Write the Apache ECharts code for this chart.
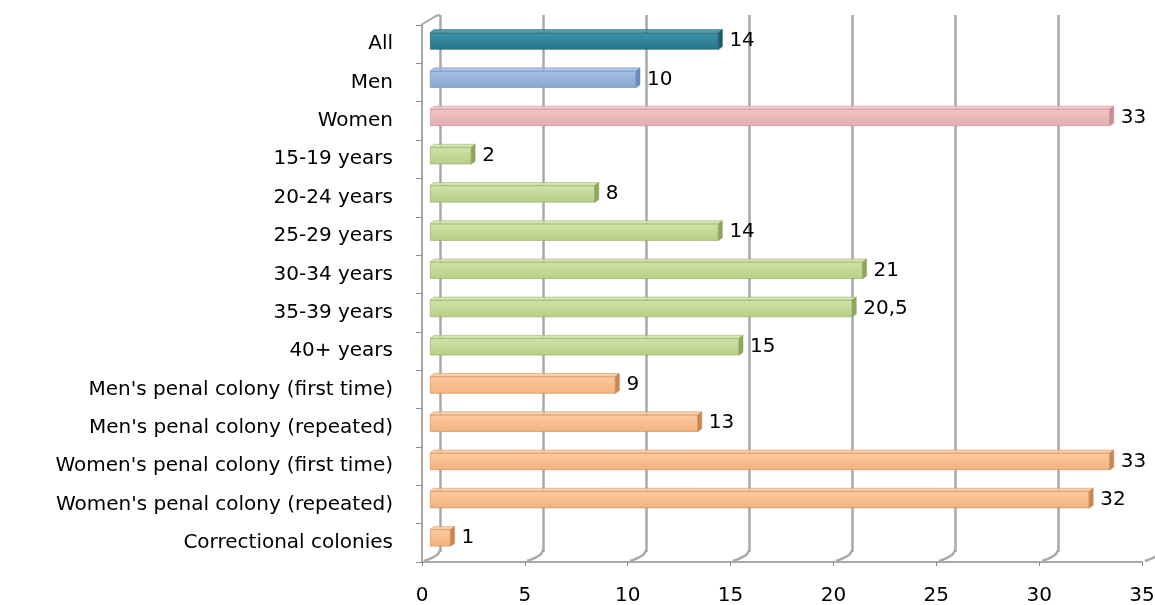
<!DOCTYPE html>
<html>
<head>
<meta charset="utf-8">
<script src="https://cdn.jsdelivr.net/npm/echarts@6/dist/echarts.min.js"></script>
<style>
  html, body { margin: 0; padding: 0; background: #ffffff; }
  #chart { width: 1155px; height: 605px; }
</style>
</head>
<body>
<div id="chart"></div>
<script>
// Share of respondents by group (%)
const categories = [
  'All', 'Men', 'Women',
  '15-19 years', '20-24 years', '25-29 years', '30-34 years', '35-39 years', '40+ years',
  "Men's penal colony (first time)", "Men's penal colony (repeated)",
  "Women's penal colony (first time)", "Women's penal colony (repeated)",
  'Correctional colonies'
];
const values = [14, 10, 33, 2, 8, 14, 21, 20.5, 15, 9, 13, 33, 32, 1];
const tickValues = [0, 5, 10, 15, 20, 25, 30, 35];

// face / side colours for each bar
const faceColors = [
  ['#3a93a8', '#2a7588'],
  ['#a4bfe3', '#8aa7d1'],
  ['#f0c4c6', '#e2acb0'],
  ['#cfe2a8', '#b7cf86'], ['#cfe2a8', '#b7cf86'], ['#cfe2a8', '#b7cf86'],
  ['#cfe2a8', '#b7cf86'], ['#cfe2a8', '#b7cf86'], ['#cfe2a8', '#b7cf86'],
  ['#fccaa0', '#f3b27c'], ['#fccaa0', '#f3b27c'],
  ['#fccaa0', '#f3b27c'], ['#fccaa0', '#f3b27c'], ['#fccaa0', '#f3b27c']
];
const sideColors = [
  '#1d5a69', '#6a8cbd', '#c98f94',
  '#8ea65e', '#8ea65e', '#8ea65e', '#8ea65e', '#8ea65e', '#8ea65e',
  '#c98752', '#c98752', '#c98752', '#c98752', '#c98752'
];

const FONT = 'DejaVu Sans';
const FONT_SIZE = 20;
const BAR_H = 17;
const DEPTH_X = 4, DEPTH_Y = 3;
const GRID_GRAY = '#a9a9a9';

const chart = echarts.init(document.getElementById('chart'));

const barData = values.map((v, i) => ({
  value: v,
  itemStyle: {
    color: new echarts.graphic.LinearGradient(0, 0, 0, 1, [
      { offset: 0, color: faceColors[i][0] },
      { offset: 1, color: faceColors[i][1] }
    ]),
    borderColor: sideColors[i],
    borderWidth: 0.6
  }
}));

chart.setOption({
  animation: false,
  backgroundColor: '#ffffff',
  grid: [
    // front plane: axes, ticks and labels
    { left: 422, right: 13, top: 25, bottom: 43, outerBoundsMode: 'none' },
    // middle plane: the bars
    { left: 430, right: 4, top: 22, bottom: 48, outerBoundsMode: 'none' },
    // back wall: gridlines (runs a little past the right edge)
    { left: 440, right: -6, top: 15, bottom: 53, outerBoundsMode: 'none' }
  ],
  xAxis: [
    {
      gridIndex: 0, type: 'value', min: 0, max: 35, interval: 5,
      axisLine: { show: true, lineStyle: { color: GRID_GRAY, width: 2 } },
      axisTick: { show: true, length: 4, lineStyle: { color: '#8c8c8c', width: 1 } },
      splitLine: { show: false },
      axisLabel: { margin: 24, fontFamily: FONT, fontSize: FONT_SIZE, color: '#000' }
    },
    { gridIndex: 1, type: 'value', min: 0, max: 35, show: false },
    {
      gridIndex: 2, type: 'value', min: 0, max: 35, interval: 5,
      axisLine: { show: false }, axisTick: { show: false }, axisLabel: { show: false },
      splitLine: { show: true, lineStyle: { color: GRID_GRAY, width: 2.5 } }
    }
  ],
  yAxis: [
    {
      gridIndex: 0, type: 'category', inverse: true, data: categories,
      axisLine: { show: true, lineStyle: { color: GRID_GRAY, width: 2 } },
      axisTick: { show: true, length: 6, lineStyle: { color: '#8c8c8c', width: 1 } },
      axisLabel: { margin: 29, fontFamily: FONT, fontSize: FONT_SIZE, color: '#000' }
    },
    { gridIndex: 1, type: 'category', inverse: true, data: categories, show: false },
    { gridIndex: 2, type: 'value', min: 0, max: 1, show: false }
  ],
  series: [
    {
      // floor/wall joints between the back wall and the front axes
      type: 'custom',
      xAxisIndex: 2, yAxisIndex: 2,
      silent: true, z: 1,
      data: tickValues.map(t => [t, 0]),
      renderItem: function (params, api) {
        const p = api.coord([api.value(0), 0]);
        const lines = [{
          type: 'polyline',
          shape: { points: [[p[0], p[1] - 2], [p[0] - 3, p[1] + 3], [p[0] - 16, p[1] + 9]], smooth: 0.4 },
          style: { stroke: GRID_GRAY, lineWidth: 2.5, fill: null }
        }];
        if (params.dataIndex === 0) {
          const top = api.coord([0, 1]);
          lines.push({
            type: 'polyline',
            shape: { points: [[top[0] - 19, top[1] + 10], [top[0] - 4, top[1] + 1], [top[0], top[1]]] },
            style: { stroke: GRID_GRAY, lineWidth: 2, fill: null }
          });
        }
        return { type: 'group', children: lines };
      }
    },
    {
      type: 'bar',
      xAxisIndex: 1, yAxisIndex: 1,
      barWidth: BAR_H,
      z: 3,
      data: barData,
      label: {
        show: true, position: 'right', distance: 11,
        fontFamily: FONT, fontSize: FONT_SIZE, color: '#000',
        formatter: p => String(p.value).replace('.', ',')
      }
    },
    {
      // top and end faces of each bar
      type: 'custom',
      xAxisIndex: 1, yAxisIndex: 1,
      silent: true, z: 4,
      data: values.map((v, i) => [v, i]),
      renderItem: function (params, api) {
        const i = params.dataIndex;
        const end = api.coord([api.value(0), api.value(1)]);
        const start = api.coord([0, api.value(1)]);
        const yt = end[1] - BAR_H / 2, yb = end[1] + BAR_H / 2;
        return {
          type: 'group',
          children: [
            {
              type: 'polygon',
              shape: { points: [[start[0], yt], [start[0] + DEPTH_X, yt - DEPTH_Y], [end[0] + DEPTH_X, yt - DEPTH_Y], [end[0], yt]] },
              style: { fill: faceColors[i][0], stroke: sideColors[i], lineWidth: 0.5, opacity: 0.9 }
            },
            {
              type: 'polygon',
              shape: { points: [[end[0], yt], [end[0] + DEPTH_X, yt - DEPTH_Y], [end[0] + DEPTH_X, yb - DEPTH_Y], [end[0], yb]] },
              style: { fill: sideColors[i], stroke: sideColors[i], lineWidth: 0.5 }
            }
          ]
        };
      }
    }
  ]
});
</script>
</body>
</html>
